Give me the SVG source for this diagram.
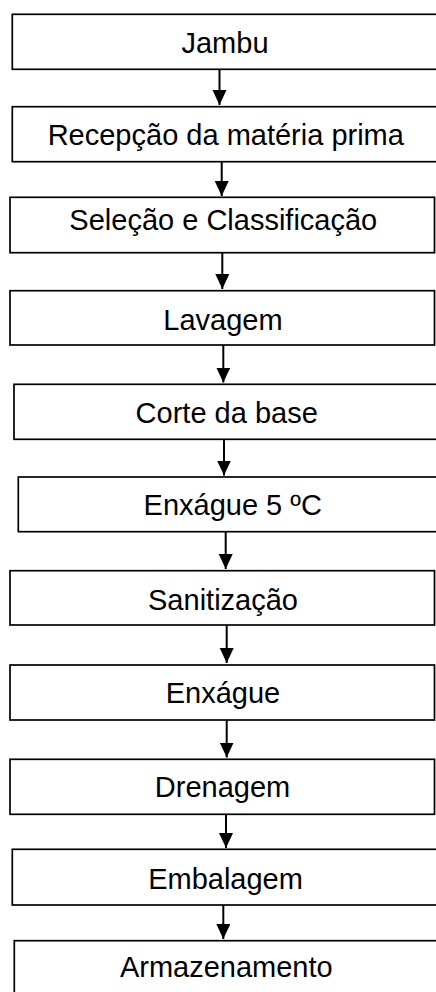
<svg xmlns="http://www.w3.org/2000/svg" width="436" height="992" viewBox="0 0 436 992">
<style>
.box{fill:#fff;stroke:#000;stroke-width:1.7}
.lbl{font-family:"Liberation Sans",Arial,sans-serif;font-size:29px;fill:#000;text-anchor:middle}
.edge{stroke:#000;stroke-width:2;fill:none;marker-end:url(#ah)}
</style>
<defs>
<marker id="ah" markerUnits="userSpaceOnUse" markerWidth="15" markerHeight="15" refX="15" refY="7" orient="auto">
<path d="M0,0 L15,7 L0,14 Z" fill="#000"/>
</marker>
</defs>
<rect width="436" height="992" fill="#fff"/>
<g id="n1"><rect class="box" x="12.3" y="14.3" width="430" height="55"/><text class="lbl" x="225" y="53">Jambu</text></g>
<g id="n2"><rect class="box" x="12.3" y="106.7" width="430" height="55"/><text class="lbl" x="225.8" y="145">Recepção da matéria prima</text></g>
<g id="n3"><rect class="box" x="10" y="197.3" width="424.5" height="55.4"/><text class="lbl" x="223.3" y="230">Seleção e Classificação</text></g>
<g id="n4"><rect class="box" x="10" y="290.7" width="424.5" height="54.3"/><text class="lbl" x="223" y="330">Lavagem</text></g>
<g id="n5"><rect class="box" x="14" y="384.3" width="430" height="55"/><text class="lbl" x="226.7" y="423.3">Corte da base</text></g>
<g id="n6"><rect class="box" x="18.3" y="477" width="430" height="54.7"/><text class="lbl" x="232.7" y="515">Enxágue 5 ºC</text></g>
<g id="n7"><rect class="box" x="10" y="570.7" width="424.5" height="54.3"/><text class="lbl" x="223" y="610">Sanitização</text></g>
<g id="n8"><rect class="box" x="10" y="665" width="424.5" height="55"/><text class="lbl" x="223" y="703.3">Enxágue</text></g>
<g id="n9"><rect class="box" x="10" y="759.3" width="424.5" height="55"/><text class="lbl" x="222.5" y="797">Drenagem</text></g>
<g id="n10"><rect class="box" x="12.3" y="849.3" width="430" height="55.7"/><text class="lbl" x="225.5" y="888.7">Embalagem</text></g>
<g id="n11"><rect class="box" x="14.3" y="940.7" width="430" height="60"/><text class="lbl" x="226.3" y="977">Armazenamento</text></g>
<g id="connectors">
<line class="edge" x1="219.5" y1="69.3" x2="219.5" y2="105"/>
<line class="edge" x1="221.7" y1="161.7" x2="221.7" y2="196"/>
<line class="edge" x1="222.3" y1="252.7" x2="222.3" y2="289"/>
<line class="edge" x1="223.3" y1="345" x2="223.3" y2="382.5"/>
<line class="edge" x1="224" y1="439.3" x2="224" y2="475.5"/>
<line class="edge" x1="225.7" y1="531.7" x2="225.7" y2="569"/>
<line class="edge" x1="226.7" y1="625" x2="226.7" y2="663"/>
<line class="edge" x1="226.7" y1="720" x2="226.7" y2="757.5"/>
<line class="edge" x1="226" y1="814.3" x2="226" y2="848"/>
<line class="edge" x1="223.3" y1="905" x2="223.3" y2="939"/>
</g>
</svg>
